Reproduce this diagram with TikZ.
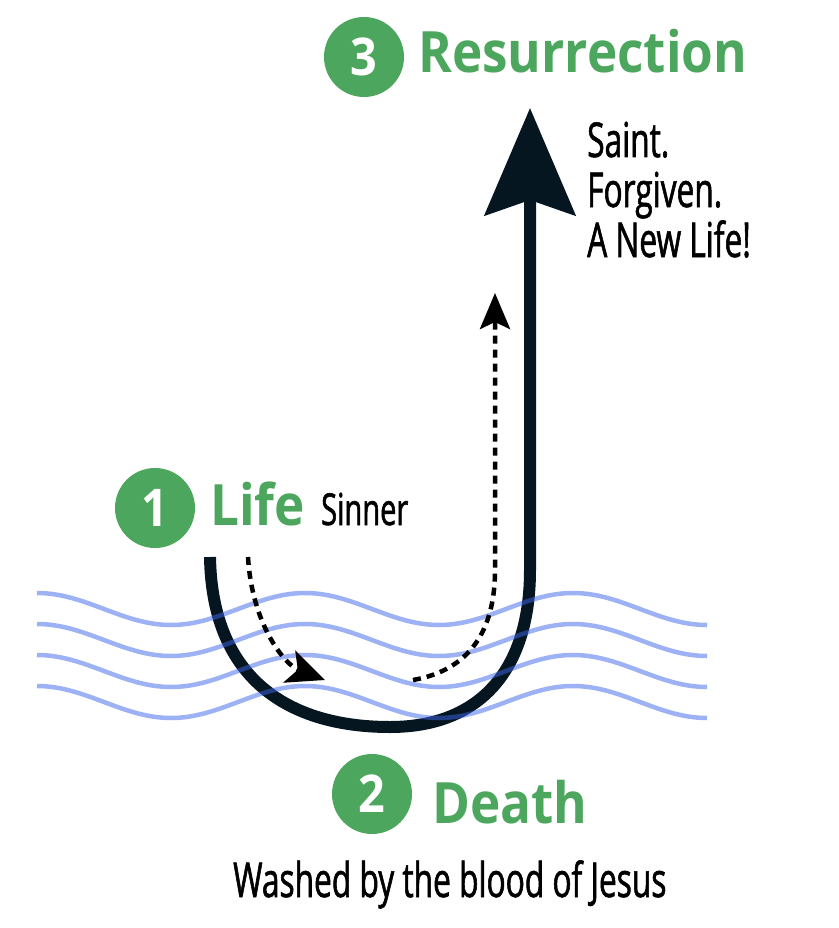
\documentclass[tikz,border=0pt]{standalone}
\usepackage{fontspec}
\setsansfont{Open Sans}
\newfontfamily\headfont[FakeStretch=0.9]{Open Sans}
\newfontfamily\condfont[FakeStretch=0.66, FakeBold=1.2]{Open Sans}
\usetikzlibrary{arrows.meta}
\definecolor{stepgreen}{HTML}{4DA65E}
\definecolor{pathnavy}{HTML}{061620}
\definecolor{waterblue}{HTML}{3C64EB}

\begin{document}
\begin{tikzpicture}[x=1pt, y=-1pt, font=\sffamily, >=Stealth,
    numdot/.style={circle, fill=stepgreen, minimum size=80pt, inner sep=0pt,
        text=white, font=\headfont\bfseries\fontsize{52}{52}\selectfont},
    steplabel/.style={anchor=base west, inner sep=0pt, text=stepgreen,
        font=\headfont\bfseries\fontsize{57}{57}\selectfont},
    note/.style={anchor=base west, inner sep=0pt,
        font=\condfont\fontsize{48}{50}\selectfont},
    hint/.style={line width=4.5pt, dash pattern=on 8pt off 6pt}]

    \useasboundingbox (0,0) rectangle (838,928);

    % Path of life, death and resurrection
    \coordinate (start) at (210,557);
    \coordinate (low) at (390,727);
    \coordinate (rise) at (530,570);
    \coordinate (top) at (530,108);
    \draw[pathnavy, line width=12pt,
        -{Stealth[length=107pt, width=90pt, inset=15pt]}]
        (start) .. controls (212,680) and (290,727) .. (low)
        .. controls (480,727) and (530,670) .. (rise) -- (top);

    % Water
    \foreach \y in {593,624,655,686}
        \draw[waterblue, opacity=0.5, line width=4.5pt]
            (37,\y) cos ++(67,16) sin ++(67,16) cos ++(67,-16) sin ++(67,-16)
            cos ++(67,16) sin ++(67,16) cos ++(67,-16) sin ++(67,-16)
            cos ++(67,16) sin ++(67,16);

    % Dashed hints
    \coordinate (godown) at (248,557);
    \coordinate (inwater) at (325,680);
    \draw[hint, -{Stealth[length=38pt, width=34pt, inset=9pt]}]
        (godown) .. controls (252,625) and (285,665) .. (inwater);
    \coordinate (outwater) at (413,680);
    \coordinate (upward) at (495,293);
    \draw[hint, -{Stealth[length=36pt, width=30pt, inset=7pt]}]
        (outwater) .. controls (470,670) and (495,630) .. (495,570) -- (upward);

    % Steps
    \node[numdot] (n1) at (155,508) {1};
    \node[steplabel] (life) at (210,525) {Life};
    \node[note, font=\condfont\fontsize{44}{44}\selectfont] (sinner) at (321,525) {Sinner};

    \node[numdot] (n2) at (372,794) {2};
    \node[steplabel] (death) at (432,823) {Death};
    \node[note] (washed) at (233,897) {Washed by the blood of Jesus};

    \node[numdot] (n3) at (364,57) {3};
    \node[steplabel] (resurrection) at (418,73) {Resurrection};
    \node[note] (saint) at (587,157) {Saint.};
    \node[note] (forgiven) at (587,207) {Forgiven.};
    \node[note] (newlife) at (587,257) {A New Life!};

\end{tikzpicture}
\end{document}
